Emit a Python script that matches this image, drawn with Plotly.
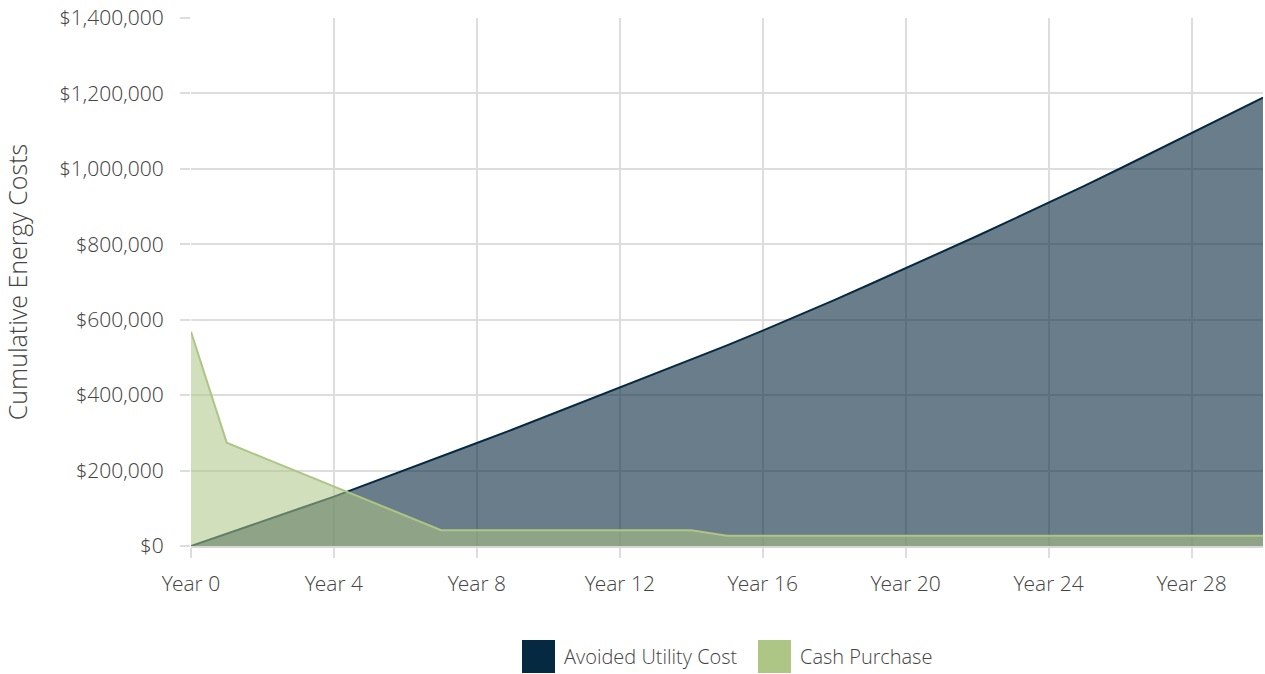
import plotly.graph_objects as go

years = list(range(0, 31))
avoided_utility_cost = [0, 32000, 65000, 98000, 131000, 166000, 201000, 237000, 273000, 309000,
                        346000, 382000, 419000, 456000, 494000, 532000, 571000, 611000, 652000, 694000,
                        736000, 779000, 822000, 866000, 910000, 955000, 1001000, 1048000, 1095000, 1142000,
                        1189000]
cash_purchase = [568000, 274000, 235000, 196000, 157000, 119000, 80000, 42000, 42000, 42000,
                 42000, 42000, 42000, 42000, 42000, 27000, 27000, 27000, 27000, 27000,
                 27000, 27000, 27000, 27000, 27000, 27000, 27000, 27000, 27000, 27000,
                 27000]
x_tick_vals = [0, 4, 8, 12, 16, 20, 24, 28]
x_tick_text = ["Year 0", "Year 4", "Year 8", "Year 12", "Year 16", "Year 20", "Year 24", "Year 28"]
y_tick_vals = [0, 200000, 400000, 600000, 800000, 1000000, 1200000, 1400000]
y_tick_text = ["$0", "$200,000", "$400,000", "$600,000", "$800,000", "$1,000,000", "$1,200,000", "$1,400,000"]
series_names = ["Avoided Utility Cost", "Cash Purchase"]

DARK = "rgb(5,41,64)"
GREEN = "rgb(173,197,133)"
FONT = "Open Sans Light, Open Sans, sans-serif"
TXT = "#444444"
GRID = "#dddddd"

fig = go.Figure()
fig.add_trace(go.Scatter(
    x=years, y=avoided_utility_cost, name=series_names[0], mode="lines",
    line=dict(color=DARK, width=2), fill="tozeroy", fillcolor="rgba(11,43,64,0.61)",
    showlegend=False, hoverinfo="x+y"))
fig.add_trace(go.Scatter(
    x=years, y=cash_purchase, name=series_names[1], mode="lines",
    line=dict(color=GREEN, width=2), fill="tozeroy", fillcolor="rgba(173,197,133,0.55)",
    showlegend=False, hoverinfo="x+y"))

L, R, T, B = 191, 2, 18, 128
W, H = 1265, 674
pw, ph = W - L - R, H - T - B

def px_x(p):
    return (p - L) / pw

def px_y(p):
    return (H - B - p) / ph

shapes = []
annotations = []
legend_items = [(series_names[0], DARK, 522), (series_names[1], GREEN, 758)]
for name, col, x0 in legend_items:
    shapes.append(dict(type="rect", xref="paper", yref="paper",
                       x0=px_x(x0), x1=px_x(x0 + 33), y0=px_y(673), y1=px_y(640),
                       fillcolor=col, line=dict(width=0), layer="above"))
    annotations.append(dict(xref="paper", yref="paper", x=px_x(x0 + 40), y=px_y(656),
                            xanchor="left", yanchor="middle", text=name, showarrow=False,
                            font=dict(family=FONT, size=20, color=TXT)))

fig.update_layout(
    width=W, height=H,
    margin=dict(l=L, r=R, t=T, b=B, pad=0),
    paper_bgcolor="white", plot_bgcolor="white",
    font=dict(family=FONT, size=21, color=TXT),
    showlegend=False,
    shapes=shapes, annotations=annotations,
    xaxis=dict(range=[0, 30], tickmode="array", tickvals=x_tick_vals, ticktext=x_tick_text,
               showgrid=True, gridcolor=GRID, gridwidth=2,
               ticks="outside", ticklen=10, tickwidth=2, tickcolor=GRID,
               ticklabelstandoff=8,
               showline=True, linecolor="#d6d6d6", linewidth=2, zeroline=False,
               tickfont=dict(family=FONT, size=21, color=TXT), layer="above traces"),
    yaxis=dict(range=[0, 1400000], tickmode="array", tickvals=y_tick_vals, ticktext=y_tick_text,
               showgrid=True, gridcolor=GRID, gridwidth=2,
               ticks="outside", ticklen=10, tickwidth=2, tickcolor=GRID,
               ticklabelstandoff=12,
               zeroline=False, showline=False,
               tickfont=dict(family=FONT, size=21, color=TXT),
               title=dict(text="Cumulative Energy Costs", standoff=26,
                          font=dict(family=FONT, size=25, color=TXT)),
               layer="above traces"),
)

fig.write_html("out.html")
